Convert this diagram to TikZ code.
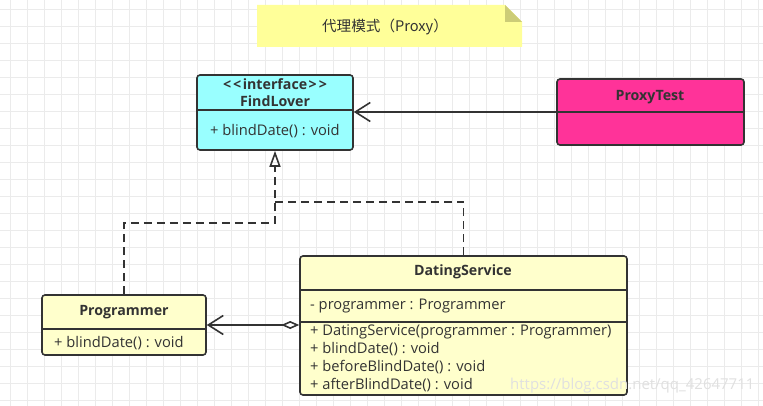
\documentclass[tikz,border=0pt]{standalone}
\usepackage{fontspec}
\setmainfont{Open Sans}
\newfontfamily\cjk{Noto Sans CJK SC}
\usetikzlibrary{arrows.meta}

\definecolor{lineC}{HTML}{333333}
\definecolor{gridC}{HTML}{EBEBEB}
\definecolor{noteC}{HTML}{FFFF99}
\definecolor{foldC}{HTML}{CCCC77}
\definecolor{ifaceC}{HTML}{99FFFF}
\definecolor{testC}{HTML}{FF3399}
\definecolor{classC}{HTML}{FFFFCC}

\begin{document}
\begin{tikzpicture}[x=1pt, y=-1pt,
    cls/.style={draw=lineC, line width=1.6pt, rounded corners=3pt, inner sep=0pt},
    title/.style={font=\fontsize{14.2}{16}\selectfont\bfseries, text=lineC, inner sep=0pt},
    member/.style={font=\fontsize{14.7}{16}\selectfont, text=lineC, anchor=west, inner sep=0pt},
    sep/.style={draw=lineC, line width=1.6pt},
    conn/.style={draw=lineC, line width=1.6pt},
    realize/.style={draw=lineC, line width=1.6pt, dash pattern=on 8pt off 5pt}]
  \useasboundingbox (0,0) rectangle (763,406);

  % 背景
  \fill[white] (0,0) rectangle (763,406);
  \foreach \i in {10,27,...,763} \draw[gridC, line width=0.8pt] (\i,0) -- (\i,406);
  \foreach \j in {9,26,...,406} \draw[gridC, line width=0.8pt] (0,\j) -- (763,\j);

  % ノート
  \fill[noteC] (257,5) -- (505,5) -- (522,22) -- (522,47) -- (257,47) -- cycle;
  \fill[foldC] (505,5) -- (522,22) -- (505,22) -- cycle;
  \node[font=\cjk\fontsize{14.6}{16}\selectfont, text=lineC] (note) at (385,27) {代理模式（Proxy）};

  % クラス
  \node[cls, fill=ifaceC, minimum width=156pt, minimum height=75pt] (findlover) at (275,112.5) {};
  \node[cls, fill=testC, minimum width=187pt, minimum height=66pt] (proxytest) at (650.5,112) {};
  \node[cls, fill=classC, minimum width=164pt, minimum height=60pt] (programmer) at (124,325) {};
  \node[cls, fill=classC, minimum width=327pt, minimum height=139pt] (dating) at (463.5,325.5) {};

  % 区切り線
  \draw[sep] (findlover.west |- 0,110) -- (findlover.east |- 0,110);
  \draw[sep] (proxytest.west |- 0,112) -- (proxytest.east |- 0,112);
  \draw[sep] (programmer.west |- 0,329) -- (programmer.east |- 0,329);
  \draw[sep] (dating.west |- 0,290) -- (dating.east |- 0,290);
  \draw[sep] (dating.west |- 0,322) -- (dating.east |- 0,322);

  % 値を入れる
  \node[title] (findloverS) at (275,84) {<\kern2pt<\kern1.5pt interface\kern1.5pt>\kern2pt>};
  \node[title] (findloverT) at (275,101) {FindLover};
  \node[member] (findloverM) at (210,131) {+ blindDate() : void};
  \node[title] (proxytestT) at (650,97) {ProxyTest};
  \node[title] (programmerT) at (124,312) {Programmer};
  \node[member] (programmerM) at (54,343) {+ blindDate() : void};
  \node[title] (datingT) at (463,272) {DatingService};
  \node[member] (datingA) at (310,306) {- programmer : Programmer};
  \node[member] (datingM1) at (310,331.5) {+ DatingService(programmer : Programmer)};
  \node[member] (datingM2) at (310,349.5) {+ blindDate() : void};
  \node[member] (datingM3) at (310,367.5) {+ beforeBlindDate() : void};
  \node[member] (datingM4) at (310,385.5) {+ afterBlindDate() : void};

  % 線を引く
  \coordinate (bendP) at (275,223);
  \coordinate (bendD) at (275,202);
  \draw[conn, -{Straight Barb[length=15pt, width=19pt, line width=1.6pt]}]
    (proxytest.west |- 0,112) -- (findlover.east |- 0,112);
  \draw[conn, {Diamond[open, length=18pt, width=8pt, line width=1.6pt]}-{Straight Barb[length=15pt, width=19pt, line width=1.6pt]}]
    (dating.west |- 0,325) -- (programmer.east |- 0,325);
  \draw[realize, -{Triangle[open, length=16pt, width=11pt, line width=1.6pt]}]
    (programmer.north) |- (bendP) -- (findlover.south);
  \draw[realize] (dating.north) |- (bendD);

  % 透かし
  \node[font=\fontsize{15}{17}\selectfont, text=black!12, anchor=west, inner sep=0pt] (mark) at (510,386) {https://blog.csdn.net/qq\_42647711};
\end{tikzpicture}
\end{document}
